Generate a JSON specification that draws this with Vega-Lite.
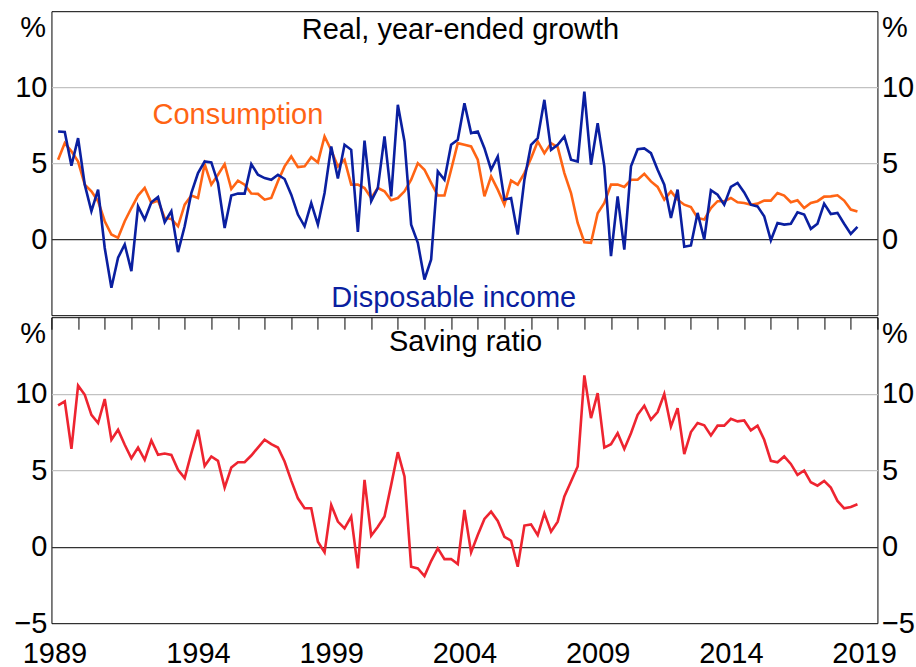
{
  "$schema": "https://vega.github.io/schema/vega-lite/v6.json",
  "autosize": {"type": "pad"},
  "padding": {"left": 12.45, "right": 4.75, "top": 10.2, "bottom": 0},
  "background": "white",
  "config": {
    "view": {"stroke": "#000000", "strokeWidth": 1},
    "font": "Liberation Sans",
    "axis": {"labelFont": "Liberation Sans", "titleFont": "Liberation Sans", "labelColor": "#000000", "titleColor": "#000000", "labelFontSize": 29, "titleFontSize": 29, "titleFontWeight": "normal"},
    "text": {"font": "Liberation Sans", "fontSize": 29}
  },
  "data": {"values": [
    {"q": 1989.25, "consumption": 5.23, "income": 7.09, "saving": 9.23},
    {"q": 1989.5, "consumption": 6.32, "income": 7.05, "saving": 9.5},
    {"q": 1989.75, "consumption": 5.78, "income": 4.84, "saving": 6.4},
    {"q": 1990.0, "consumption": 5.11, "income": 6.65, "saving": 10.54},
    {"q": 1990.25, "consumption": 3.59, "income": 3.59, "saving": 9.93},
    {"q": 1990.5, "consumption": 3.15, "income": 1.84, "saving": 8.62},
    {"q": 1990.75, "consumption": 2.5, "income": 3.26, "saving": 8.08},
    {"q": 1991.0, "consumption": 1.18, "income": -0.58, "saving": 9.65},
    {"q": 1991.25, "consumption": 0.31, "income": -3.19, "saving": 6.99},
    {"q": 1991.5, "consumption": 0.09, "income": -1.22, "saving": 7.64},
    {"q": 1991.75, "consumption": 1.18, "income": -0.35, "saving": 6.66},
    {"q": 1992.0, "consumption": 2.05, "income": -2.1, "saving": 5.78},
    {"q": 1992.25, "consumption": 2.87, "income": 2.16, "saving": 6.48},
    {"q": 1992.5, "consumption": 3.37, "income": 1.29, "saving": 5.68},
    {"q": 1992.75, "consumption": 2.38, "income": 2.43, "saving": 6.94},
    {"q": 1993.0, "consumption": 2.54, "income": 2.78, "saving": 6.0},
    {"q": 1993.25, "consumption": 1.4, "income": 1.12, "saving": 6.09},
    {"q": 1993.5, "consumption": 1.33, "income": 1.84, "saving": 6.0},
    {"q": 1993.75, "consumption": 0.85, "income": -0.85, "saving": 5.02},
    {"q": 1994.0, "consumption": 2.27, "income": 0.85, "saving": 4.48},
    {"q": 1994.25, "consumption": 2.87, "income": 3.04, "saving": 6.11},
    {"q": 1994.5, "consumption": 2.71, "income": 4.35, "saving": 7.64},
    {"q": 1994.75, "consumption": 4.94, "income": 5.11, "saving": 5.28},
    {"q": 1995.0, "consumption": 3.59, "income": 5.05, "saving": 5.9},
    {"q": 1995.25, "consumption": 4.24, "income": 3.7, "saving": 5.61},
    {"q": 1995.5, "consumption": 4.94, "income": 0.74, "saving": 3.86},
    {"q": 1995.75, "consumption": 3.3, "income": 2.87, "saving": 5.17},
    {"q": 1996.0, "consumption": 3.85, "income": 3.0, "saving": 5.52},
    {"q": 1996.25, "consumption": 3.59, "income": 3.0, "saving": 5.52},
    {"q": 1996.5, "consumption": 3.0, "income": 4.94, "saving": 5.96},
    {"q": 1996.75, "consumption": 2.98, "income": 4.24, "saving": 6.48},
    {"q": 1997.0, "consumption": 2.6, "income": 4.02, "saving": 6.99},
    {"q": 1997.25, "consumption": 2.71, "income": 3.91, "saving": 6.7},
    {"q": 1997.5, "consumption": 3.81, "income": 4.24, "saving": 6.48},
    {"q": 1997.75, "consumption": 4.79, "income": 3.96, "saving": 5.57},
    {"q": 1998.0, "consumption": 5.44, "income": 2.93, "saving": 4.32},
    {"q": 1998.25, "consumption": 4.74, "income": 1.62, "saving": 3.16},
    {"q": 1998.5, "consumption": 4.79, "income": 0.85, "saving": 2.51},
    {"q": 1998.75, "consumption": 5.4, "income": 2.38, "saving": 2.51},
    {"q": 1999.0, "consumption": 5.05, "income": 0.96, "saving": 0.33},
    {"q": 1999.25, "consumption": 6.76, "income": 3.04, "saving": -0.37},
    {"q": 1999.5, "consumption": 5.85, "income": 6.1, "saving": 2.73},
    {"q": 1999.75, "consumption": 4.79, "income": 4.0, "saving": 1.64},
    {"q": 2000.0, "consumption": 5.23, "income": 6.21, "saving": 1.2},
    {"q": 2000.25, "consumption": 3.59, "income": 5.88, "saving": 1.97},
    {"q": 2000.5, "consumption": 3.59, "income": 0.48, "saving": -1.42},
    {"q": 2000.75, "consumption": 3.37, "income": 6.48, "saving": 4.37},
    {"q": 2001.0, "consumption": 2.71, "income": 2.5, "saving": 0.72},
    {"q": 2001.25, "consumption": 3.37, "income": 3.37, "saving": 1.31},
    {"q": 2001.5, "consumption": 3.15, "income": 6.76, "saving": 1.97},
    {"q": 2001.75, "consumption": 2.56, "income": 2.82, "saving": 4.04},
    {"q": 2002.0, "consumption": 2.71, "income": 8.84, "saving": 6.18},
    {"q": 2002.25, "consumption": 3.15, "income": 6.43, "saving": 4.59},
    {"q": 2002.5, "consumption": 3.91, "income": 0.96, "saving": -1.31},
    {"q": 2002.75, "consumption": 5.0, "income": -0.24, "saving": -1.42},
    {"q": 2003.0, "consumption": 4.57, "income": -2.65, "saving": -1.92},
    {"q": 2003.25, "consumption": 3.7, "income": -1.33, "saving": -0.94},
    {"q": 2003.5, "consumption": 2.87, "income": 4.46, "saving": -0.11},
    {"q": 2003.75, "consumption": 2.87, "income": 3.91, "saving": -0.81},
    {"q": 2004.0, "consumption": 4.57, "income": 6.21, "saving": -0.81},
    {"q": 2004.25, "consumption": 6.32, "income": 6.54, "saving": -1.14},
    {"q": 2004.5, "consumption": 6.21, "income": 8.95, "saving": 2.4},
    {"q": 2004.75, "consumption": 6.1, "income": 6.98, "saving": -0.37},
    {"q": 2005.0, "consumption": 5.23, "income": 7.09, "saving": 0.76},
    {"q": 2005.25, "consumption": 2.82, "income": 5.99, "saving": 1.81},
    {"q": 2005.5, "consumption": 4.13, "income": 4.57, "saving": 2.29},
    {"q": 2005.75, "consumption": 3.26, "income": 5.44, "saving": 1.68},
    {"q": 2006.0, "consumption": 2.27, "income": 2.6, "saving": 0.65},
    {"q": 2006.25, "consumption": 3.86, "income": 2.71, "saving": 0.39},
    {"q": 2006.5, "consumption": 3.59, "income": 0.31, "saving": -1.31},
    {"q": 2006.75, "consumption": 4.35, "income": 3.91, "saving": 1.38},
    {"q": 2007.0, "consumption": 5.33, "income": 6.21, "saving": 1.46},
    {"q": 2007.25, "consumption": 6.43, "income": 6.65, "saving": 0.76},
    {"q": 2007.5, "consumption": 5.66, "income": 9.17, "saving": 2.18},
    {"q": 2007.75, "consumption": 6.32, "income": 5.88, "saving": 0.98},
    {"q": 2008.0, "consumption": 6.06, "income": 6.21, "saving": 1.64},
    {"q": 2008.25, "consumption": 4.35, "income": 6.76, "saving": 3.28},
    {"q": 2008.5, "consumption": 3.04, "income": 5.23, "saving": 4.26},
    {"q": 2008.75, "consumption": 1.07, "income": 5.11, "saving": 5.24},
    {"q": 2009.0, "consumption": -0.2, "income": 9.71, "saving": 11.2},
    {"q": 2009.25, "consumption": -0.24, "income": 4.9, "saving": 8.4},
    {"q": 2009.5, "consumption": 1.71, "income": 7.63, "saving": 10.04},
    {"q": 2009.75, "consumption": 2.38, "income": 4.79, "saving": 6.48},
    {"q": 2010.0, "consumption": 3.6, "income": -1.11, "saving": 6.7},
    {"q": 2010.25, "consumption": 3.59, "income": 2.82, "saving": 7.42},
    {"q": 2010.5, "consumption": 3.44, "income": -0.68, "saving": 6.39},
    {"q": 2010.75, "consumption": 3.91, "income": 4.79, "saving": 7.42},
    {"q": 2011.0, "consumption": 3.91, "income": 5.92, "saving": 8.62},
    {"q": 2011.25, "consumption": 4.3, "income": 5.97, "saving": 9.21},
    {"q": 2011.5, "consumption": 3.8, "income": 5.66, "saving": 8.3},
    {"q": 2011.75, "consumption": 3.44, "income": 4.57, "saving": 8.8},
    {"q": 2012.0, "consumption": 2.6, "income": 3.59, "saving": 9.98},
    {"q": 2012.25, "consumption": 3.15, "income": 1.4, "saving": 7.86},
    {"q": 2012.5, "consumption": 2.6, "income": 3.26, "saving": 9.06},
    {"q": 2012.75, "consumption": 2.27, "income": -0.5, "saving": 6.05},
    {"q": 2013.0, "consumption": 2.12, "income": -0.41, "saving": 7.49},
    {"q": 2013.25, "consumption": 1.4, "income": 1.73, "saving": 8.08},
    {"q": 2013.5, "consumption": 1.29, "income": -0.02, "saving": 7.93},
    {"q": 2013.75, "consumption": 2.05, "income": 3.22, "saving": 7.27},
    {"q": 2014.0, "consumption": 2.5, "income": 2.93, "saving": 7.91},
    {"q": 2014.25, "consumption": 2.5, "income": 2.27, "saving": 7.91},
    {"q": 2014.5, "consumption": 2.71, "income": 3.44, "saving": 8.36},
    {"q": 2014.75, "consumption": 2.43, "income": 3.7, "saving": 8.19},
    {"q": 2015.0, "consumption": 2.38, "income": 3.08, "saving": 8.25},
    {"q": 2015.25, "consumption": 2.27, "income": 2.27, "saving": 7.6},
    {"q": 2015.5, "consumption": 2.34, "income": 2.16, "saving": 7.91},
    {"q": 2015.75, "consumption": 2.54, "income": 1.51, "saving": 6.99},
    {"q": 2016.0, "consumption": 2.54, "income": -0.07, "saving": 5.61},
    {"q": 2016.25, "consumption": 3.04, "income": 1.07, "saving": 5.52},
    {"q": 2016.5, "consumption": 2.87, "income": 0.96, "saving": 5.9},
    {"q": 2016.75, "consumption": 2.43, "income": 1.02, "saving": 5.41},
    {"q": 2017.0, "consumption": 2.56, "income": 1.77, "saving": 4.69},
    {"q": 2017.25, "consumption": 2.05, "income": 1.62, "saving": 4.98},
    {"q": 2017.5, "consumption": 2.38, "income": 0.68, "saving": 4.21},
    {"q": 2017.75, "consumption": 2.5, "income": 1.02, "saving": 3.99},
    {"q": 2018.0, "consumption": 2.8, "income": 2.34, "saving": 4.3},
    {"q": 2018.25, "consumption": 2.82, "income": 1.66, "saving": 3.86},
    {"q": 2018.5, "consumption": 2.89, "income": 1.73, "saving": 2.99},
    {"q": 2018.75, "consumption": 2.54, "income": 1.02, "saving": 2.51},
    {"q": 2019.0, "consumption": 1.95, "income": 0.35, "saving": 2.59},
    {"q": 2019.25, "consumption": 1.82, "income": 0.81, "saving": 2.77}
  ]},
  "spacing": 0,
  "vconcat": [
    {
      "width": 826,
      "height": 304,
      "layer": [
        {
          "mark": {"type": "line", "color": "#ff6414", "strokeWidth": 2.6},
          "encoding": {
            "x": {"field": "q", "type": "quantitative", "scale": {"domain": [1989, 2020], "nice": false, "zero": false}, "axis": null},
            "y": {"field": "consumption", "type": "quantitative", "scale": {"domain": [-5, 15], "nice": false, "zero": false},
              "axis": {"orient": "left", "values": [0, 5, 10], "ticks": false, "domain": false, "grid": true,
                "gridColor": {"condition": {"test": "datum.value == 0", "value": "#333333"}, "value": "#c2c2c2"},
                "gridWidth": 1.2, "labelPadding": 4.5, "labelBaseline": "middle",
                "title": "%", "titleAngle": 0, "titleAlign": "right", "titleBaseline": "alphabetic", "titleX": -6, "titleY": 25.7}}
          }
        },
        {
          "mark": {"type": "line", "color": "#0a1fa0", "strokeWidth": 2.6},
          "encoding": {
            "x": {"field": "q", "type": "quantitative"},
            "y": {"field": "income", "type": "quantitative", "scale": {"domain": [-5, 15], "nice": false, "zero": false}, "axis": null}
          }
        },
        {
          "data": {"values": [{}]},
          "mark": {"type": "text", "text": "Consumption", "color": "#ff6414", "align": "center", "baseline": "alphabetic"},
          "encoding": {
            "x": {"datum": 1996.0, "type": "quantitative"},
            "y": {"datum": 7.57, "type": "quantitative", "scale": {"domain": [-5, 15], "nice": false, "zero": false}, "axis": null}
          }
        },
        {
          "data": {"values": [{}]},
          "mark": {"type": "text", "text": "Disposable income", "color": "#0a1fa0", "align": "center", "baseline": "alphabetic"},
          "encoding": {
            "x": {"datum": 2004.1, "type": "quantitative"},
            "y": {"datum": -4.45, "type": "quantitative", "scale": {"domain": [-5, 15], "nice": false, "zero": false}, "axis": null}
          }
        },
        {
          "data": {"values": [{}]},
          "mark": {"type": "text", "text": "Real, year-ended growth", "color": "#000000", "align": "center", "baseline": "alphabetic"},
          "encoding": {
            "x": {"datum": 2004.35, "type": "quantitative"},
            "y": {"datum": 13.15, "type": "quantitative", "scale": {"domain": [-5, 15], "nice": false, "zero": false},
              "axis": {"orient": "right", "values": [0, 5, 10], "ticks": false, "domain": false, "grid": false,
                "labelPadding": 4, "labelBaseline": "middle",
                "title": "%", "titleAngle": 0, "titleAlign": "left", "titleBaseline": "alphabetic", "titleX": 4, "titleY": 25.7}}
          }
        }
      ],
      "resolve": {"scale": {"y": "independent"}}
    },
    {
      "width": 826,
      "height": 306,
      "layer": [
        {
          "mark": {"type": "line", "color": "#ee2430", "strokeWidth": 2.6},
          "encoding": {
            "x": {"field": "q", "type": "quantitative", "scale": {"domain": [1989, 2020], "nice": false, "zero": false},
              "axis": {"values": [1989, 1994, 1999, 2004, 2009, 2014, 2019],
                "ticks": false, "domain": false, "grid": false, "format": "d",
                "labelOffset": {"condition": {"test": "datum.value == 1989", "value": 3}, "value": 13.3},
                "labelPadding": 16, "labelBaseline": "top", "labelOverlap": false, "labelFlush": false, "title": null}},
            "y": {"field": "saving", "type": "quantitative", "scale": {"domain": [-5, 15], "nice": false, "zero": false},
              "axis": {"orient": "left", "values": [-5, 0, 5, 10], "ticks": false, "domain": false, "grid": true,
                "gridColor": {"condition": {"test": "datum.value == 0", "value": "#333333"}, "value": "#c2c2c2"},
                "gridOpacity": {"condition": {"test": "datum.value == -5", "value": 0}, "value": 1},
                "gridWidth": 1.2, "labelPadding": 4.5, "labelBaseline": "middle",
                "title": "%", "titleAngle": 0, "titleAlign": "right", "titleBaseline": "alphabetic", "titleX": -6, "titleY": 25.7}}
          }
        },
        {
          "data": {"values": [{}]},
          "mark": {"type": "text", "text": "Saving ratio", "color": "#000000", "align": "center", "baseline": "alphabetic"},
          "encoding": {
            "x": {"datum": 2004.54, "type": "quantitative", "scale": {"domain": [1989, 2020], "nice": false, "zero": false},
              "axis": {"values": [1989, 1990, 1991, 1992, 1993, 1994, 1995, 1996, 1997, 1998, 1999, 2000, 2001, 2002, 2003, 2004, 2005, 2006, 2007, 2008, 2009, 2010, 2011, 2012, 2013, 2014, 2015, 2016, 2017, 2018, 2019, 2020],
                "tickSize": -12, "tickColor": "#000000", "tickWidth": 1, "domain": false, "grid": false, "labels": false, "title": null}},
            "y": {"datum": 12.78, "type": "quantitative", "scale": {"domain": [-5, 15], "nice": false, "zero": false},
              "axis": {"orient": "right", "values": [-5, 0, 5, 10], "ticks": false, "domain": false, "grid": false,
                "labelPadding": 4, "labelBaseline": "middle",
                "title": "%", "titleAngle": 0, "titleAlign": "left", "titleBaseline": "alphabetic", "titleX": 4, "titleY": 25.7}}
          }
        }
      ],
      "resolve": {"scale": {"y": "independent", "x": "independent"}}
    }
  ]
}
